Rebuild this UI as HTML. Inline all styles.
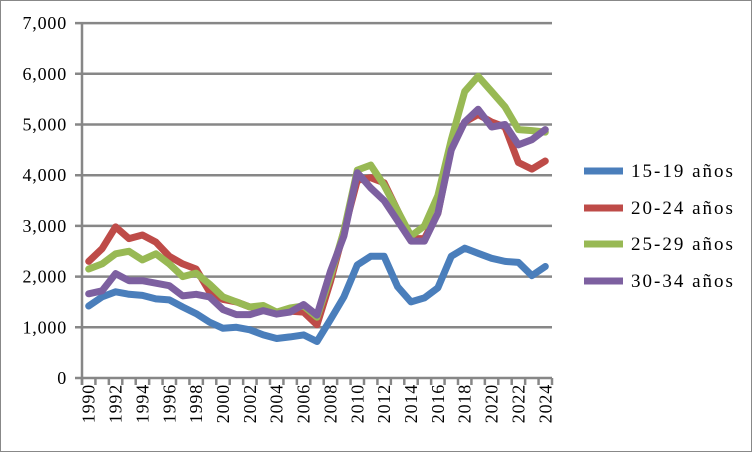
<!DOCTYPE html>
<html><head><meta charset="utf-8"><style>
body{margin:0;background:#fff}
svg{display:block;font-family:"Liberation Serif",serif}
</style></head><body>
<svg width="752" height="452" xmlns="http://www.w3.org/2000/svg">
<rect x="0.5" y="0.5" width="751" height="451" fill="#fff" stroke="#888"/>
<g id="grid" stroke="#878787" stroke-width="2.5"></g>
<g id="lbl" font-size="18" fill="#000" letter-spacing="0.8"></g>
<g id="ser" fill="none" stroke-width="7" stroke-linejoin="round" stroke-linecap="round"></g>
<g font-size="19" letter-spacing="2">
<line x1="584" y1="171" x2="623" y2="171" stroke="#4a7ebb" stroke-width="7"/><text x="631" y="177">15-19 años</text>
<line x1="584" y1="208" x2="623" y2="208" stroke="#be4b48" stroke-width="7"/><text x="631" y="214">20-24 años</text>
<line x1="584" y1="244" x2="623" y2="244" stroke="#98b954" stroke-width="7"/><text x="631" y="250">25-29 años</text>
<line x1="584" y1="281" x2="623" y2="281" stroke="#7d60a0" stroke-width="7"/><text x="631" y="287">30-34 años</text>
</g>
</svg>
<script>
const NS="http://www.w3.org/2000/svg";
const x0=82,x1=552,n=35,step=(x1-x0)/n;
const Y=v=>378-v*50.7/1000;
const X=i=>x0+step*(i+0.5);
const g=document.getElementById('grid'),l=document.getElementById('lbl'),s=document.getElementById('ser');
function el(p,t,a,txt){const e=document.createElementNS(NS,t);for(const k in a)e.setAttribute(k,a[k]);if(txt!=null)e.textContent=txt;p.appendChild(e);return e;}
for(let v=0;v<=7000;v+=1000){const y=Y(v);el(g,'line',{x1:75,x2:552,y1:y,y2:y});
el(l,'text',{x:67,y:y+6,'text-anchor':'end'},v==0?'0':(v/1000)+',000');}
el(g,'line',{x1:x0,x2:x0,y1:Y(7000),y2:385});
for(let i=0;i<=n;i++){const x=x0+step*i;el(g,'line',{x1:x,x2:x,y1:378,y2:385});}
for(let i=0;i<n;i+=2){const x=X(i)+6;el(l,'text',{x:0,y:0,transform:`translate(${x},384) rotate(-90)`,'text-anchor':'end'},String(1990+i));}
const D=[
["#4a7ebb",[1420,1600,1700,1650,1630,1560,1540,1400,1270,1100,980,1000,950,850,780,810,850,720,1150,1600,2230,2400,2400,1800,1500,1580,1780,2400,2560,2460,2360,2300,2280,2020,2200]],
["#be4b48",[2300,2550,2980,2750,2820,2680,2400,2250,2150,1700,1550,1500,1400,1400,1300,1320,1300,1050,1900,2900,3900,3950,3850,3300,2750,2750,3250,4550,5050,5200,5050,4950,4250,4120,4280]],
["#98b954",[2150,2250,2450,2500,2330,2450,2250,2000,2070,1850,1600,1500,1400,1430,1300,1380,1420,1200,2000,2900,4100,4200,3800,3300,2800,3000,3600,4700,5650,5950,5650,5350,4900,4880,4850]],
["#7d60a0",[1660,1720,2060,1920,1920,1870,1820,1620,1650,1600,1350,1250,1250,1330,1260,1300,1450,1240,2100,2800,4050,3750,3500,3100,2700,2700,3250,4500,5050,5300,4950,5000,4600,4700,4900]]];
for(const [c,v] of D){el(s,'polyline',{stroke:c,points:v.map((a,i)=>X(i).toFixed(1)+','+Y(a).toFixed(1)).join(' ')});}
</script>
</body></html>
